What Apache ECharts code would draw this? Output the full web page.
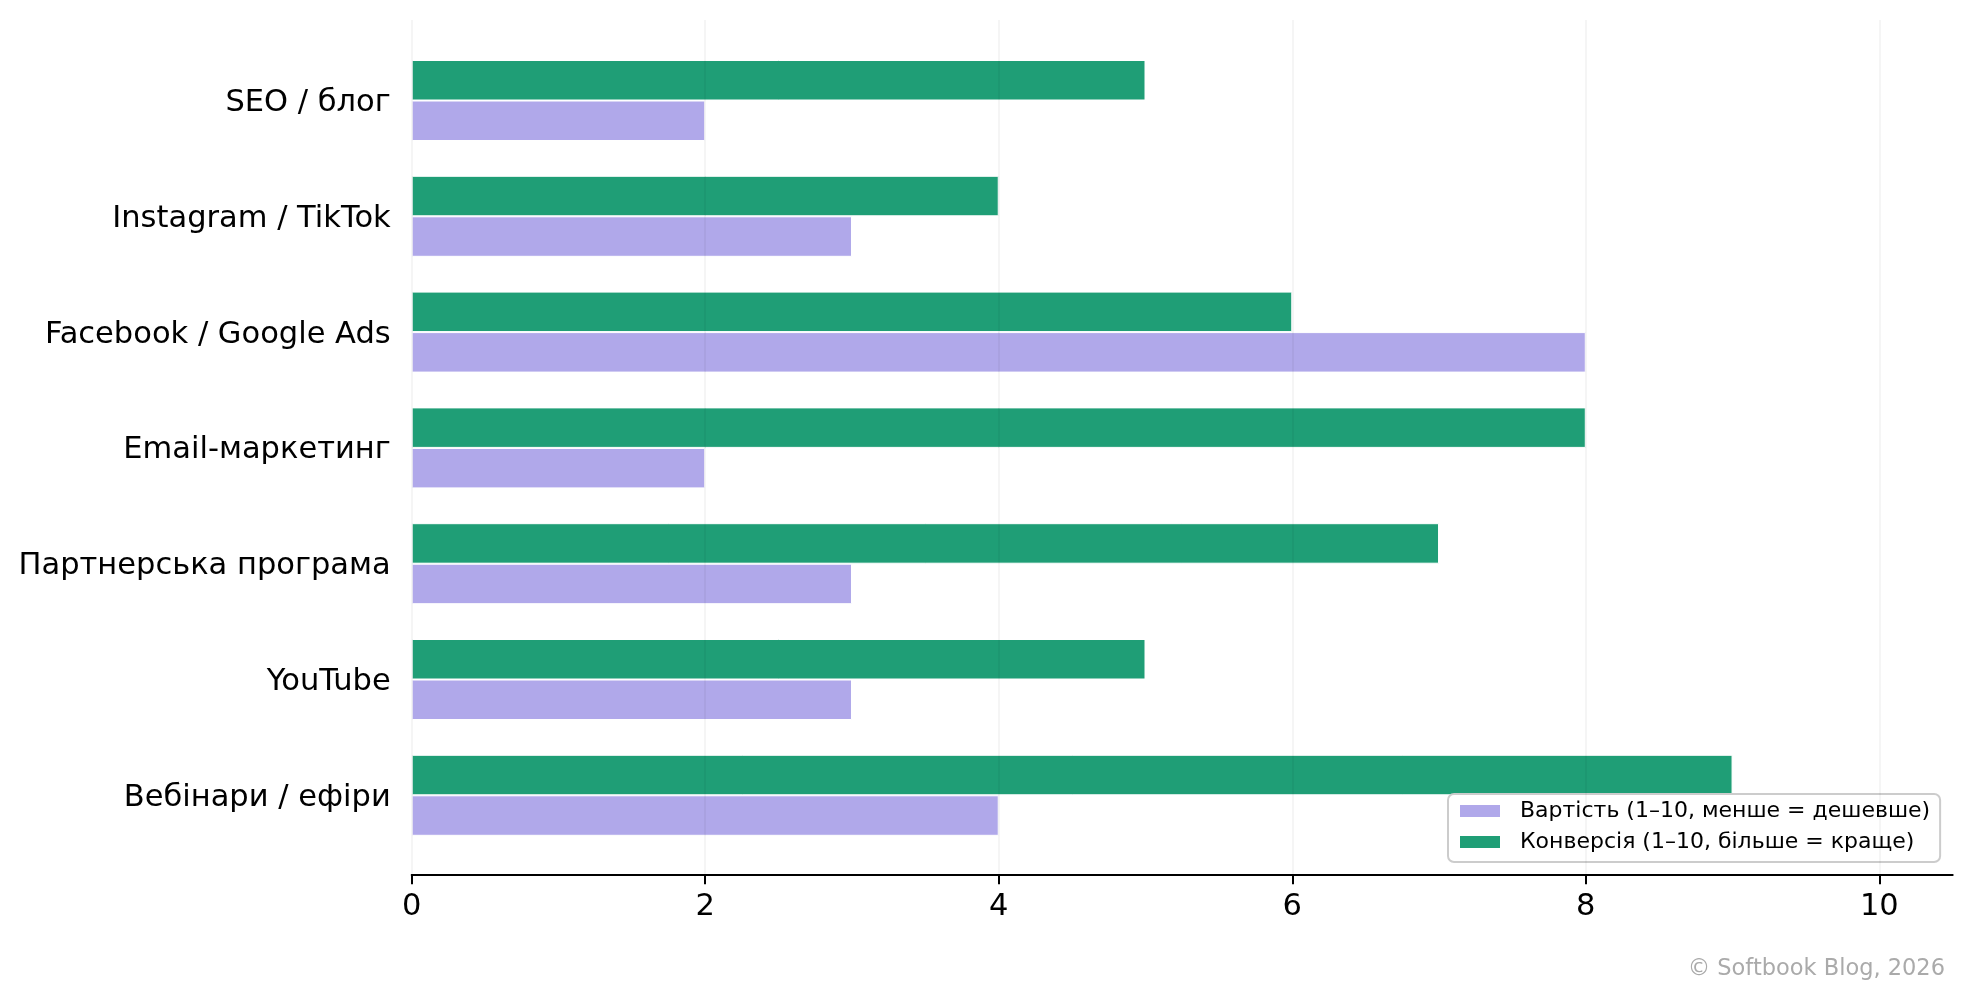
<!DOCTYPE html>
<html>
<head>
<meta charset="utf-8">
<script src="https://cdn.jsdelivr.net/npm/echarts@6/dist/echarts.min.js"></script>
<style>
html,body{margin:0;padding:0;background:#fff;}
#chart{width:1971px;height:1001px;}
</style>
</head>
<body>
<div id="chart"></div>
<script>
const categories = ['SEO / блог', 'Instagram / TikTok', 'Facebook / Google Ads', 'Email-маркетинг', 'Партнерська програма', 'YouTube', 'Вебінари / ефіри'];
const costValues = [2, 3, 8, 2, 3, 3, 4];
const conversionValues = [5, 4, 6, 8, 7, 5, 9];
const seriesNames = ['Вартість (1–10, менше = дешевше)', 'Конверсія (1–10, більше = краще)'];
const xTicks = [0, 2, 4, 6, 8, 10];
const watermark = '© Softbook Blog, 2026';

const FONT = 'DejaVu Sans';
const chart = echarts.init(document.getElementById('chart'));
chart.setOption({
  animation: false,
  backgroundColor: '#ffffff',
  textStyle: { fontFamily: FONT },
  grid: [
    { left: 411.7, right: 18.3, top: 42.6, height: 810.6, containLabel: false },
    { left: 411.7, right: 18.3, top: 20, height: 854.3, containLabel: false }
  ],
  xAxis: [
    { type: 'value', gridIndex: 0, min: 0, max: 10.5, show: false },
    {
      type: 'value', gridIndex: 1, min: 0, max: 10.5, interval: 2, z: 5,
      axisLine: { show: true, lineStyle: { color: '#000', width: 2 } },
      axisTick: { show: true, length: 10, lineStyle: { color: '#000', width: 2 }, customValues: xTicks },
      axisLabel: { show: true, customValues: xTicks, color: '#000', fontSize: 30.5, fontFamily: FONT, margin: 17 },
      splitLine: { show: true, lineStyle: { color: 'rgba(0,0,0,0.05)', width: 1.6 } }
    }
  ],
  yAxis: [
    {
      type: 'category', gridIndex: 0, inverse: true, data: categories,
      axisLine: { show: false }, axisTick: { show: false },
      axisLabel: { color: '#000', fontSize: 30.5, fontFamily: FONT, margin: 21, verticalAlign: 'top', lineHeight: 5 }
    },
    { type: 'value', gridIndex: 1, show: false, min: 0, max: 1 }
  ],
  legend: {
    data: seriesNames,
    orient: 'vertical',
    left: 1448, top: 794,
    padding: [6, 10, 9, 10],
    itemWidth: 42, itemHeight: 14, itemGap: 9,
    icon: 'rect',
    backgroundColor: 'rgba(255,255,255,0.8)',
    borderColor: '#cccccc', borderWidth: 2, borderRadius: 6,
    textStyle: { fontSize: 22, fontFamily: FONT, color: '#000', padding: [0, 0, 0, 14], lineHeight: 22 }
  },
  series: [
    {
      name: seriesNames[1], type: 'bar', xAxisIndex: 0, yAxisIndex: 0,
      data: conversionValues, barWidth: 40.5, barGap: '0%',
      itemStyle: { color: '#1f9e76', borderColor: '#ffffff', borderWidth: 1 }
    },
    {
      name: seriesNames[0], type: 'bar', xAxisIndex: 0, yAxisIndex: 0,
      data: costValues, barWidth: 40.5, barGap: '0%',
      itemStyle: { color: '#b0a8ea', borderColor: '#ffffff', borderWidth: 1 }
    }
  ],
  graphic: [
    { type: 'text', right: 26, top: 958, style: { text: watermark, fontSize: 22.5, fontFamily: FONT, fill: '#aaaaaa' } }
  ]
});
</script>
</body>
</html>
